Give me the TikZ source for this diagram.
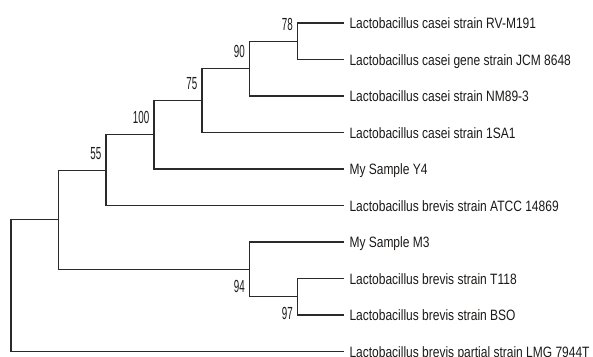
\documentclass[tikz,border=0pt]{standalone}
\usepackage{fontspec}
\setmainfont[FakeStretch=0.8]{Liberation Sans}
\newfontfamily\bootfont[FakeStretch=0.56]{Liberation Sans}
\usepackage{xcolor}
\usetikzlibrary{calc,positioning}
\definecolor{ink}{HTML}{1C1A18}
\definecolor{branch}{HTML}{2A2A2A}
\newcommand{\Leaf}{\fontsize{15}{18}\selectfont}
\newcommand{\Boot}{\bootfont\fontsize{17.5}{20}\selectfont}
\tikzset{
  leaf/.style={anchor=west, text=ink, font=\Leaf, inner sep=0pt, outer sep=0pt,
    text height=11pt, text depth=0pt, xshift=0pt},
  bootup/.style={anchor=south east, text=ink, font=\Boot, inner sep=0pt,
    xshift=-4.5pt, yshift=10.5pt},
  bootdown/.style={anchor=north east, text=ink, font=\Boot, inner sep=0pt,
    text height=12.5pt, xshift=-4.5pt, yshift=-10.5pt},
  edge/.style={draw=branch, line width=1.2pt}
}

\begin{document}
\begin{tikzpicture}[x=1pt,y=-1pt]
  \useasboundingbox (0,0) rectangle (593,356);
  % leaf tips and names
  \foreach \i/\y/\nm in {1/23/Lactobacillus casei strain RV-M191,
      2/59.5/Lactobacillus casei gene strain JCM 8648,
      3/96/Lactobacillus casei strain NM89-3,
      4/132.5/Lactobacillus casei strain 1SA1,
      5/169/My Sample Y4,
      6/205.5/Lactobacillus brevis strain ATCC 14869,
      7/242/My Sample M3,
      8/278.5/Lactobacillus brevis strain T118,
      9/315/Lactobacillus brevis strain BSO,
      10/351.5/Lactobacillus brevis partial strain LMG 7944T}{
    \coordinate (tip\i) at (344,\y);
    \node[leaf] (leaf\i) at ([xshift=5.5pt]tip\i) {\nm};}
  % inner nodes
  \coordinate (n78) at (297.5,41.25);
  \coordinate (n90) at (249.5,68.6);
  \coordinate (n75) at (202,100.6);
  \coordinate (n100) at (154,134.8);
  \coordinate (n55) at (106,170.1);
  \coordinate (n97) at (297.5,296.75);
  \coordinate (n94) at (249.5,269.4);
  \coordinate (nbr) at (58.5,219.7);
  \coordinate (root) at (11,285.6);
  % branches
  \foreach \p/\c in {n78/tip1, n78/tip2, n90/n78, n90/tip3, n75/n90, n75/tip4,
      n100/n75, n100/tip5, n55/n100, n55/tip6, n97/tip8, n97/tip9,
      n94/tip7, n94/n97, nbr/n55, nbr/n94, root/nbr, root/tip10}{
    \draw[edge] (\p) |- (\c);}
  % bootstrap values
  \foreach \b in {78,90,75,100,55}{\node[bootup] (b\b) at (n\b) {\b};}
  \foreach \b in {94,97}{\node[bootdown] (b\b) at (n\b) {\b};}
\end{tikzpicture}
\end{document}
